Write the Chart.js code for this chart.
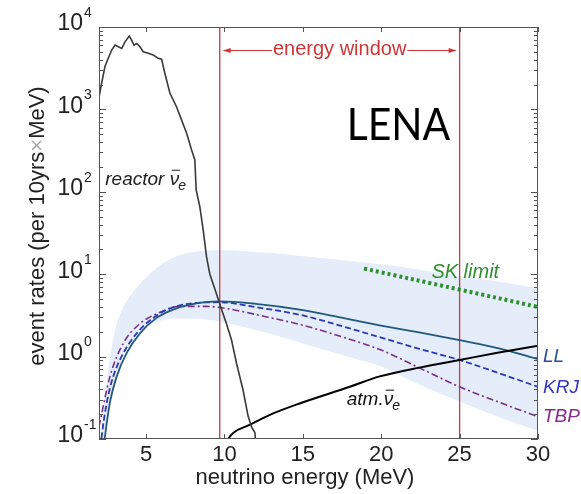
<!DOCTYPE html>
<html>
<head>
<meta charset="utf-8">
<script src="https://cdn.jsdelivr.net/npm/chart.js@4.4.1/dist/chart.umd.min.js"></script>
<style>
  html, body { margin: 0; padding: 0; background: #fff; }
  canvas { display: block; }
</style>
</head>
<body>
<canvas id="chart" width="581" height="494"></canvas>
<script>
// values (energy in MeV, rate per 10yrs x MeV)
const reactorE = [2.0, 2.17, 2.38, 2.59, 2.81, 3.02, 3.23, 3.45, 3.66, 3.93, 4.08, 4.23, 4.4, 4.61, 4.82, 5.14, 5.46, 5.78, 5.99, 6.2, 6.52, 6.95, 7.27, 7.59, 7.9, 8.11, 8.2, 8.43, 8.64, 8.86, 9.07, 9.39, 9.71, 10.13, 10.45, 10.77, 11.19, 11.51, 11.73, 11.94, 12.0];
const reactorRate = [1410, 2090, 3310, 4170, 5250, 6030, 5750, 5500, 6610, 7760, 6920, 6030, 6310, 5750, 5010, 4790, 4570, 4170, 4070, 2750, 1580, 1070, 741, 513, 324, 245, 105, 66, 35, 16.2, 10, 6.6, 4.3, 2.5, 1.6, 0.83, 0.39, 0.19, 0.14, 0.12, 0.09];

const bandE = [2, 2.5, 3, 3.5, 4, 5, 6, 7, 8, 10, 12, 14, 16, 18, 20, 22, 24, 26, 28, 30];
const bandUpper = [0.063, 0.5, 2.0, 3.8, 5.5, 9.1, 13.2, 16.6, 18.6, 19.5, 18.6, 17.4, 15.8, 14.5, 13.2, 11.7, 10.2, 8.9, 7.8, 6.8];
const bandLower = [0.025, 0.18, 0.5, 0.95, 1.45, 2.3, 2.75, 2.9, 2.9, 2.6, 2.1, 1.66, 1.26, 0.98, 0.76, 0.5, 0.34, 0.24, 0.17, 0.126];

const llE = [2.3, 2.38, 2.7, 3.13, 3.76, 4.61, 5.67, 6.73, 7.8, 9.7, 12, 14.8, 17, 19.9, 22.5, 25, 27.5, 30];
const llRate = [0.079, 0.107, 0.28, 0.575, 1.1, 1.91, 2.95, 3.72, 4.27, 4.68, 4.37, 3.72, 3.09, 2.4, 1.95, 1.58, 1.26, 0.93];

const krjE = [2.1, 2.17, 2.5, 2.91, 3.55, 4.4, 5.68, 7.37, 9.7, 12, 15, 17.5, 20, 22.5, 25, 27.5, 30];
const krjRate = [0.079, 0.107, 0.28, 0.575, 1.1, 1.91, 3.16, 4.27, 4.57, 3.98, 3.16, 2.34, 1.7, 1.23, 0.91, 0.63, 0.43];

const tbpE = [2.0, 2.7, 3.55, 4.61, 5.68, 7.16, 8.86, 9.92, 12.5, 15, 17.5, 20, 22.5, 25, 27.5, 30];
const tbpRate = [0.141, 0.575, 1.45, 2.51, 3.31, 4.07, 4.07, 3.89, 3.09, 2.4, 1.74, 1.2, 0.72, 0.43, 0.28, 0.186];

const atmE = [10.1, 10.24, 10.6, 11.6, 13, 14.8, 18, 19.9, 22.5, 25, 27.5, 30];
const atmRate = [0.085, 0.1, 0.12, 0.148, 0.2, 0.27, 0.43, 0.575, 0.74, 0.91, 1.12, 1.35];

const skE = [18.9, 25, 30];
const skRate = [11.7, 6.5, 4.0];

const windowEdges = [9.7, 25];
const xTicks = [5, 10, 15, 20, 25, 30];
const yTickExponents = [-1, 0, 1, 2, 3, 4];

const pts = (xs, ys) => xs.map((x, i) => ({ x: x, y: ys[i] }));

const FONT = '"Liberation Sans", Arial, sans-serif';

function drawNuBar(ctx, prefix, x, y, size, color) {
  // prefix + nu with bar and subscript e
  ctx.font = 'italic ' + size + 'px ' + FONT;
  ctx.fillStyle = color;
  ctx.strokeStyle = color;
  ctx.textAlign = 'left';
  ctx.textBaseline = 'middle';
  ctx.fillText(prefix, x, y);
  let px = x + ctx.measureText(prefix).width;
  ctx.fillText('ν', px, y);
  const nw = ctx.measureText('ν').width;
  ctx.lineWidth = 1;
  ctx.beginPath();
  ctx.moveTo(px + 2, y - size * 0.5);
  ctx.lineTo(px + nw + 1, y - size * 0.5);
  ctx.stroke();
  ctx.font = 'italic ' + Math.round(size * 0.75) + 'px ' + FONT;
  ctx.fillText('e', px + nw - 1, y + size * 0.35);
}

const axesPlugin = {
  id: 'axesPlugin',
  afterDatasetsDraw(chart) {
    const { ctx, chartArea: a, scales: { x, y } } = chart;
    ctx.save();

    // frame
    ctx.strokeStyle = '#555';
    ctx.lineWidth = 1;
    ctx.strokeRect(a.left + 0.5, a.top + 0.5, a.right - a.left - 1, a.bottom - a.top - 1);

    // x ticks, top and bottom, inward
    ctx.beginPath();
    xTicks.forEach(v => {
      const px = Math.round(x.getPixelForValue(v)) + 0.5;
      ctx.moveTo(px, a.bottom); ctx.lineTo(px, a.bottom - 5);
      ctx.moveTo(px, a.top); ctx.lineTo(px, a.top + 5);
    });
    // y ticks, log major and minor, left and right
    yTickExponents.forEach(e => {
      for (let m = 1; m <= 9; m++) {
        if (e === 4 && m > 1) break;
        const py = Math.round(y.getPixelForValue(m * Math.pow(10, e))) + 0.5;
        const len = m === 1 ? 7 : 4;
        ctx.moveTo(a.left, py); ctx.lineTo(a.left + len, py);
        ctx.moveTo(a.right, py); ctx.lineTo(a.right - len, py);
      }
    });
    ctx.stroke();

    // x tick labels
    ctx.fillStyle = '#222';
    ctx.font = '22px ' + FONT;
    ctx.textAlign = 'center';
    ctx.textBaseline = 'top';
    xTicks.forEach(v => ctx.fillText(String(v), x.getPixelForValue(v), a.bottom + 5));

    // y tick labels 10^n
    yTickExponents.forEach(e => {
      const py = y.getPixelForValue(Math.pow(10, e));
      ctx.font = '23px ' + FONT;
      ctx.textAlign = 'right';
      ctx.textBaseline = 'middle';
      ctx.fillText('10', a.left - 16, py - 3);
      ctx.font = '14px ' + FONT;
      ctx.textAlign = 'left';
      ctx.fillText(String(e), a.left - 15, py - 14);
    });

    // axis titles
    ctx.font = '22px ' + FONT;
    ctx.textAlign = 'center';
    ctx.textBaseline = 'middle';
    ctx.fillText('neutrino energy (MeV)', a.left + 206, a.bottom + 39);

    ctx.save();
    ctx.translate(38, 226);
    ctx.rotate(-Math.PI / 2);
    const t1 = 'event rates (per 10yrs', t2 = '×', t3 = 'MeV)';
    const w1 = ctx.measureText(t1).width, w2 = ctx.measureText(t2).width, w3 = ctx.measureText(t3).width;
    let sx = -(w1 + w2 + w3) / 2;
    ctx.textAlign = 'left';
    ctx.fillText(t1, sx, 0);
    ctx.fillStyle = '#aaa';
    ctx.fillText(t2, sx + w1, 0);
    ctx.fillStyle = '#222';
    ctx.fillText(t3, sx + w1 + w2, 0);
    ctx.restore();

    // energy window arrow
    const xl = x.getPixelForValue(windowEdges[0]);
    const xr = x.getPixelForValue(windowEdges[1]);
    const ay = 50;
    const red = '#cc3636';
    ctx.font = '20px ' + FONT;
    ctx.fillStyle = red;
    ctx.strokeStyle = red;
    ctx.textAlign = 'center';
    ctx.textBaseline = 'middle';
    const label = 'energy window';
    const tw = ctx.measureText(label).width;
    const cx = (xl + xr) / 2;
    ctx.fillText(label, cx, ay - 1);
    ctx.lineWidth = 1;
    ctx.beginPath();
    ctx.moveTo(xl + 4, ay + 0.5); ctx.lineTo(cx - tw / 2 - 1, ay + 0.5);
    ctx.moveTo(cx + tw / 2 + 1, ay + 0.5); ctx.lineTo(xr - 4, ay + 0.5);
    ctx.stroke();
    ctx.beginPath();
    ctx.moveTo(xl + 3, ay + 0.5); ctx.lineTo(xl + 11, ay - 2); ctx.lineTo(xl + 11, ay + 3); ctx.closePath();
    ctx.moveTo(xr - 3, ay + 0.5); ctx.lineTo(xr - 11, ay - 2); ctx.lineTo(xr - 11, ay + 3); ctx.closePath();
    ctx.fill();

    // LENA
    ctx.save();
    ctx.fillStyle = '#000';
    ctx.font = '44px Lato, "Open Sans", sans-serif';
    ctx.textAlign = 'left';
    ctx.textBaseline = 'alphabetic';
    ctx.translate(x.getPixelForValue(17.8), 140);
    ctx.scale(0.93, 1);
    ctx.fillText('LENA', 0, 0);
    ctx.restore();

    // curve labels
    drawNuBar(ctx, 'reactor ', x.getPixelForValue(2.4), y.getPixelForValue(140), 19, '#222');
    drawNuBar(ctx, 'atm.', x.getPixelForValue(17.8), y.getPixelForValue(0.3), 19, '#111');
    ctx.font = 'italic 20px ' + FONT;
    ctx.textAlign = 'left';
    ctx.textBaseline = 'middle';
    ctx.fillStyle = '#2f8f2f';
    ctx.fillText('SK limit', x.getPixelForValue(23.2), y.getPixelForValue(10.6));
    ctx.font = 'italic 19px ' + FONT;
    ctx.fillStyle = '#2a4f95';
    ctx.fillText('LL', a.right + 5, y.getPixelForValue(0.99));
    ctx.fillStyle = '#2f36c0';
    ctx.fillText('KRJ', a.right + 5, y.getPixelForValue(0.42));
    ctx.fillStyle = '#8a2a8a';
    ctx.fillText('TBP', a.right + 5, y.getPixelForValue(0.186));

    ctx.restore();
  }
};

const vline = (e) => [{ x: e, y: 0.1 }, { x: e, y: 10000 }];

new Chart(document.getElementById('chart'), {
  type: 'line',
  data: {
    datasets: [
      { label: 'band upper', data: pts(bandE, bandUpper), borderWidth: 0, backgroundColor: '#e4edf9', fill: '+1', order: 20, tension: 0.3, cubicInterpolationMode: 'monotone' },
      { label: 'band lower', data: pts(bandE, bandLower), borderWidth: 0, fill: false, order: 19, tension: 0.3, cubicInterpolationMode: 'monotone' },
      { label: 'window low', data: vline(windowEdges[0]), borderColor: '#cc3a3a', borderWidth: 1.3, order: 10 },
      { label: 'window high', data: vline(windowEdges[1]), borderColor: '#cc3a3a', borderWidth: 1.3, order: 10 },
      { label: 'SK limit', data: pts(skE, skRate), borderColor: '#2f8f2f', borderWidth: 4, borderDash: [3, 3], order: 6 },
      { label: 'TBP', data: pts(tbpE, tbpRate), borderColor: '#7d2f86', borderWidth: 1.6, borderDash: [7, 3, 2, 3], order: 5, cubicInterpolationMode: 'monotone' },
      { label: 'KRJ', data: pts(krjE, krjRate), borderColor: '#2838b8', borderWidth: 1.8, borderDash: [6, 3], order: 4, cubicInterpolationMode: 'monotone' },
      { label: 'LL', data: pts(llE, llRate), borderColor: '#22587c', borderWidth: 1.8, order: 3, cubicInterpolationMode: 'monotone' },
      { label: 'atm', data: pts(atmE, atmRate), borderColor: '#000', borderWidth: 2, order: 2, cubicInterpolationMode: 'monotone' },
      { label: 'reactor', data: pts(reactorE, reactorRate), borderColor: '#3a3a3a', borderWidth: 1.6, order: 1, tension: 0 }
    ]
  },
  options: {
    responsive: false,
    animation: false,
    devicePixelRatio: 1,
    layout: { padding: { left: 99, top: 27, right: 43, bottom: 55 } },
    elements: { point: { radius: 0 }, line: { tension: 0.4 } },
    plugins: { legend: { display: false }, tooltip: { enabled: false } },
    scales: {
      x: { type: 'linear', min: 2, max: 30, display: false },
      y: { type: 'logarithmic', min: 0.1, max: 10000, display: false }
    }
  },
  plugins: [axesPlugin]
});
</script>
</body>
</html>
